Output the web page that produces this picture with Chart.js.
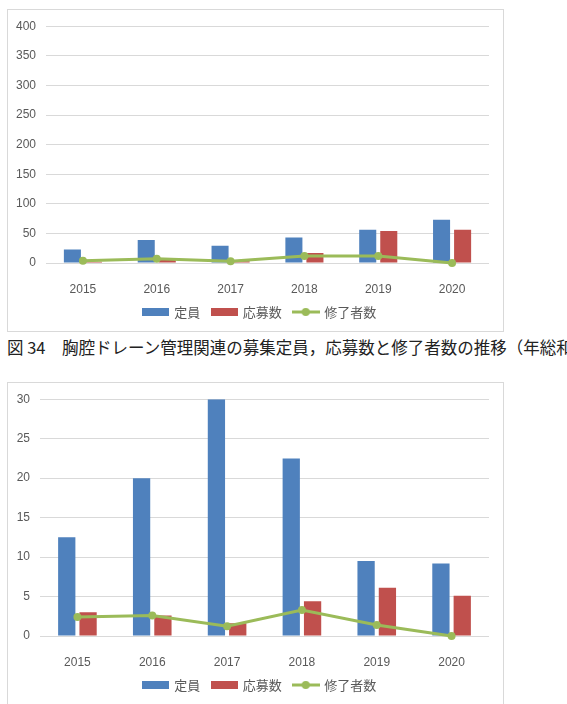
<!DOCTYPE html>
<html>
<head>
<meta charset="utf-8">
<script src="https://cdn.jsdelivr.net/npm/chart.js@4"></script>
<style>
  body { margin: 0; background: #fff; width: 567px; height: 704px; overflow: hidden; position: relative; }
  .box { position: absolute; left: 7px; width: 497px; border: 1px solid #d9d9d9; box-sizing: border-box; }
  .box canvas { position: absolute; left: -1px; top: -1px; }
  #cap { position: absolute; left: 7px; top: 337px; font-family: "Noto Sans CJK JP", sans-serif; font-size: 16.5px;
         line-height: 20px; color: #222; white-space: nowrap; }
</style>
</head>
<body>
<div class="box" style="top:9px;height:323px"><canvas id="c1" width="497" height="322"></canvas></div>
<div id="cap">図 34　胸腔ドレーン管理関連の募集定員，応募数と修了者数の推移（年総和）</div>
<div class="box" style="top:382px;height:330px"><canvas id="c2" width="497" height="322"></canvas></div>
<script>
// shared
const years = ["2015", "2016", "2017", "2018", "2019", "2020"];
const seriesNames = ["定員", "応募数", "修了者数"];

// top chart (total)
const capacityTotal = [23, 39, 29, 43, 56, 73];
const applicantsTotal = [2, 5, 3, 17, 54, 56];
const completedTotal = [4, 7, 3, 12, 12, 0];

// bottom chart
const capacityAvg = [12.5, 20, 30, 22.5, 9.5, 9.2];
const applicantsAvg = [3.0, 2.6, 1.6, 4.4, 6.1, 5.1];
const completedAvg = [2.4, 2.6, 1.25, 3.3, 1.4, 0];

const BLUE = "#4F81BD", RED = "#C0504D", GREEN = "#9BBB59";

function rectIcon(color) {
  const c = document.createElement("canvas");
  c.width = 27; c.height = 8;
  const g = c.getContext("2d");
  g.fillStyle = color;
  g.fillRect(0, 0, 27, 8);
  return c;
}
function lineIcon(color) {
  const c = document.createElement("canvas");
  c.width = 28; c.height = 10;
  const g = c.getContext("2d");
  g.strokeStyle = color; g.lineWidth = 3;
  g.beginPath(); g.moveTo(0, 5); g.lineTo(28, 5); g.stroke();
  g.fillStyle = color;
  g.beginPath(); g.arc(14, 5, 4, 0, Math.PI * 2); g.fill();
  return c;
}
const icons = [rectIcon(BLUE), rectIcon(RED), lineIcon(GREEN)];

// legend sits a bit right of centre in the original
const legendShift = {
  id: "legendShift",
  afterLayout(chart) {
    chart.legend.left += 12;
    chart.legend.right += 12;
  }
};

function makeChart(id, cap, app, comp, max, step, yWidth) {
  new Chart(document.getElementById(id), {
    type: "bar",
    data: {
      labels: years,
      datasets: [
        { label: seriesNames[0], data: cap, backgroundColor: BLUE, order: 1,
          categoryPercentage: 0.57, barPercentage: 0.81 },
        { label: seriesNames[1], data: app, backgroundColor: RED, order: 1,
          categoryPercentage: 0.57, barPercentage: 0.81 },
        { label: seriesNames[2], data: comp, type: "line", order: 0, clip: false,
          borderColor: GREEN, backgroundColor: GREEN, borderWidth: 3,
          pointRadius: 4, pointBackgroundColor: GREEN, pointBorderWidth: 0, tension: 0 }
      ]
    },
    plugins: [legendShift],
    options: {
      responsive: false,
      animation: false,
      events: [],
      layout: { padding: { top: 16, right: 15, left: 0, bottom: 2.5 } },
      scales: {
        x: {
          grid: { display: false },
          border: { display: false },
          ticks: { color: "#595959", padding: 11, font: { family: "Liberation Sans", size: 12 } },
          afterFit: s => { s.height = 30.5; }
        },
        y: {
          min: 0, max: max,
          grid: { color: "#d9d9d9", drawTicks: false, lineWidth: 1 },
          border: { display: false },
          ticks: { stepSize: step, color: "#595959", padding: 10, font: { family: "Liberation Sans", size: 12 } },
          afterFit: s => { s.width = yWidth; }
        }
      },
      plugins: {
        tooltip: { enabled: false },
        legend: {
          position: "bottom",
          labels: {
            usePointStyle: true,
            pointStyleWidth: 24,
            boxHeight: 8,
            padding: 12,
            color: "#595959",
            font: { family: "Noto Sans CJK JP", size: 13 },
            sort: (a, b) => a.datasetIndex - b.datasetIndex,
            generateLabels: chart => {
              const items = Chart.defaults.plugins.legend.labels.generateLabels(chart);
              items.forEach(it => { it.pointStyle = icons[it.datasetIndex]; });
              return items;
            }
          }
        }
      }
    }
  });
}

makeChart("c1", capacityTotal, applicantsTotal, completedTotal, 400, 50, 39);
makeChart("c2", capacityAvg, applicantsAvg, completedAvg, 30, 5, 33);
</script>
</body>
</html>
